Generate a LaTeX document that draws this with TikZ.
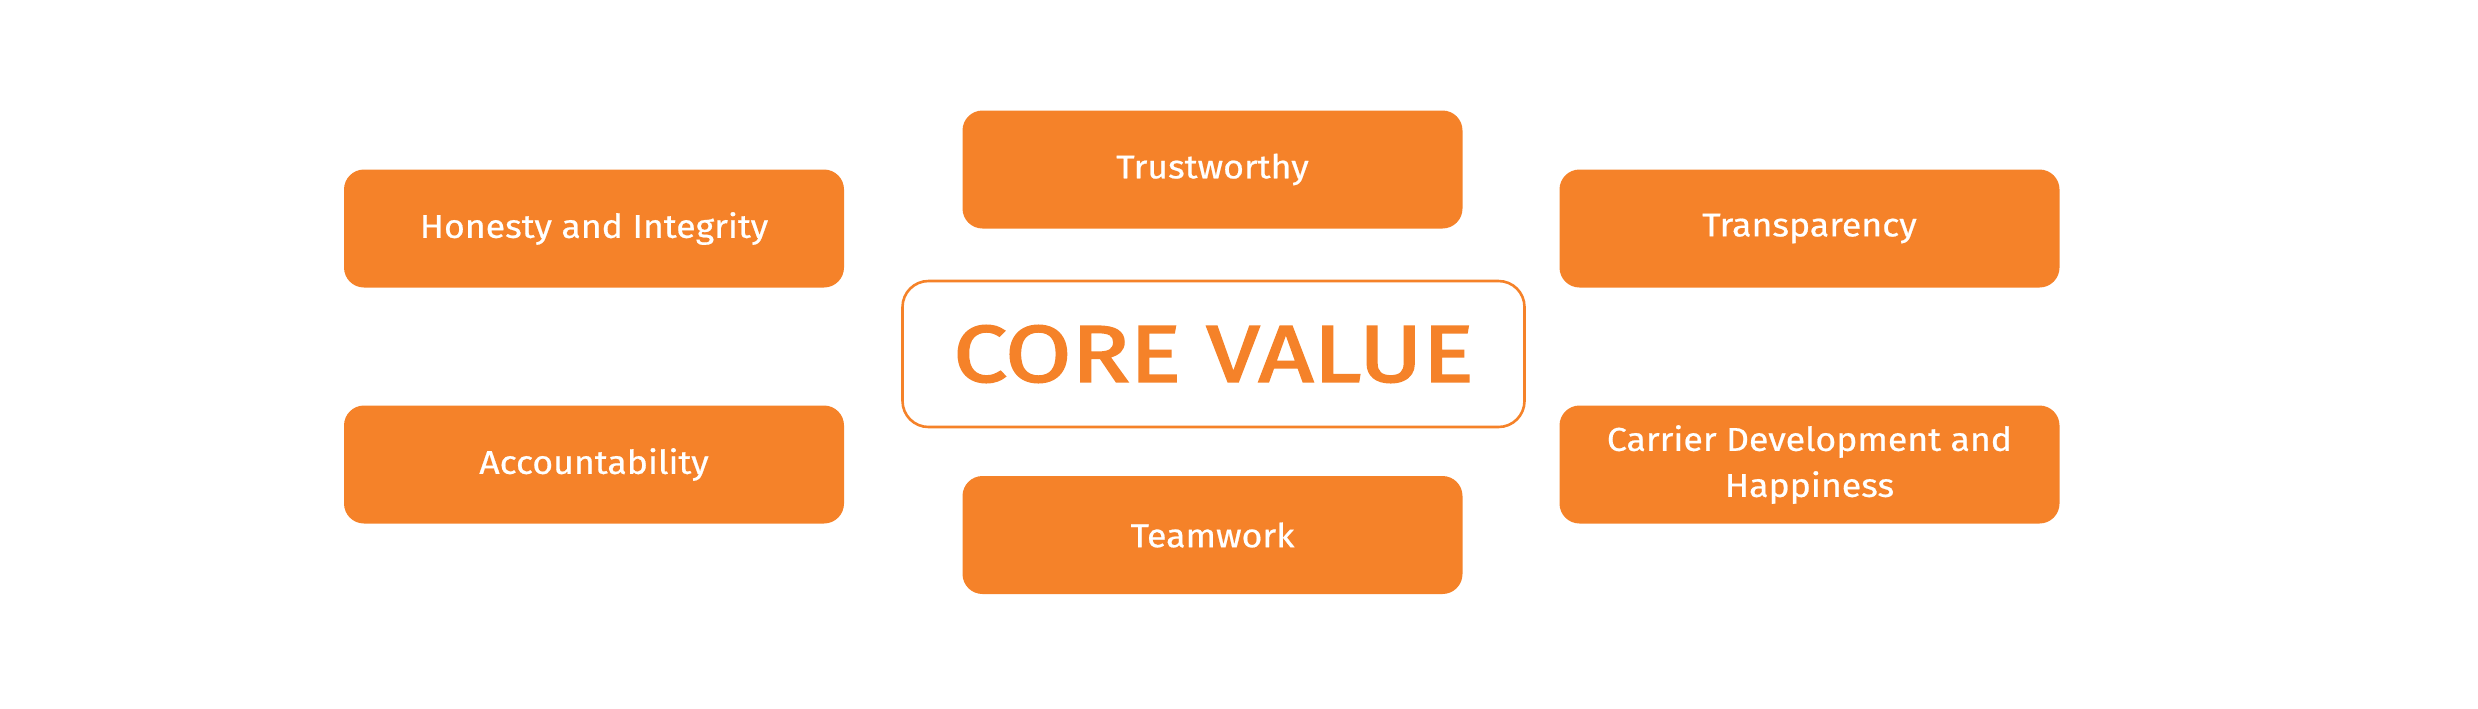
\documentclass[tikz,border=0pt]{standalone}
\usepackage{fontspec}
\setmainfont{Fira Sans}
\newfontfamily\labelfont[FakeStretch=1.08,FakeBold=0.6]{Fira Sans}
\newfontfamily\corefont[FakeStretch=1.2,FakeBold=2.5]{Fira Sans}
\definecolor{corange}{HTML}{F58229}
\begin{document}
\begin{tikzpicture}[x=0.5pt,y=-0.5pt,
  valbox/.style={fill=corange,draw=none,rounded corners=10pt,minimum width=250pt,minimum height=59pt,
    text=white,font=\labelfont\fontsize{16.5pt}{23pt}\selectfont,align=center,inner sep=0pt},
  corebox/.style={fill=white,draw=corange,line width=1.3pt,rounded corners=13pt,minimum width=311pt,minimum height=73pt,
    text=corange,font=\corefont\fontsize{40pt}{44pt}\selectfont,inner sep=0pt}]
\useasboundingbox (0,0) rectangle (2478,708);
\node[valbox] (honesty) at (594,228.5) {Honesty and Integrity};
\node[valbox] (trust) at (1212.5,169.5) {Trustworthy};
\node[valbox] (transp) at (1809.5,228.5) {Transparency};
\node[valbox] (account) at (594,464.5) {Accountability};
\node[valbox] (carrier) at (1809.5,464.5) {Carrier Development and\\Happiness};
\node[valbox] (team) at (1212.5,535) {Teamwork};
\node[corebox] (core) at (1213.5,354) {CORE VALUE};
\end{tikzpicture}
\end{document}
